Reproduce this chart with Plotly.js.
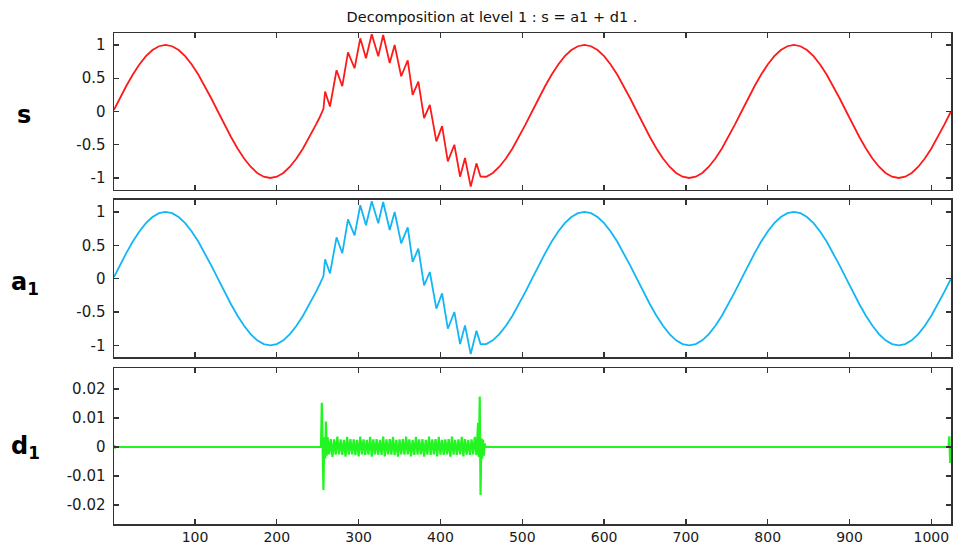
<!DOCTYPE html>
<html>
<head>
<meta charset="utf-8">
<script src="https://cdn.plot.ly/plotly-3.0.1.min.js"></script>
<style>
  html, body { margin: 0; padding: 0; background: #fff; }
  #chart { width: 953px; height: 544px; }
</style>
</head>
<body>
<div id="chart"></div>
<script>
// ---- data ----
const sX = [1,8,16,24,32,40,48,56,64,72,80,88,96,104,112,120,128,136,144,152,160,168,176,184,192,200,208,216,224,232,240,248,252,256,
  257,259,265,273,280,287,295,302,309,316,324,330,338,344,352,360,366,373,380,387,395,402,409,417,424,430,437,444,449,
  456,464,472,480,488,496,504,512,520,528,536,544,552,560,568,576,584,592,600,608,616,624,632,640,648,656,664,672,680,688,696,704,
  712,720,728,736,744,752,760,768,776,784,792,800,808,816,824,832,840,848,856,864,872,880,888,896,904,912,920,928,936,944,952,960,
  968,976,984,992,1000,1008,1016,1024];

const sY = [0.025,0.195,0.383,0.556,0.707,0.831,0.924,0.981,1,0.981,0.924,0.831,0.707,0.556,0.383,0.195,0,-0.195,-0.383,-0.556,-0.707,-0.831,-0.924,-0.981,-1,-0.981,-0.924,-0.831,-0.707,-0.556,-0.383,-0.195,-0.098,0,
  0.04,0.30,0.075,0.62,0.38,0.89,0.65,1.10,0.80,1.16,0.83,1.15,0.73,1.00,0.53,0.77,0.25,0.45,-0.10,0.10,-0.45,-0.22,-0.75,-0.50,-0.98,-0.70,-1.13,-0.78,-0.98,
  -0.981,-0.924,-0.831,-0.707,-0.556,-0.383,-0.195,0,0.195,0.383,0.556,0.707,0.831,0.924,0.981,1,0.981,0.924,0.831,0.707,0.556,0.383,0.195,0,-0.195,-0.383,-0.556,-0.707,-0.831,-0.924,-0.981,-1,
  -0.981,-0.924,-0.831,-0.707,-0.556,-0.383,-0.195,0,0.195,0.383,0.556,0.707,0.831,0.924,0.981,1,0.981,0.924,0.831,0.707,0.556,0.383,0.195,0,-0.195,-0.383,-0.556,-0.707,-0.831,-0.924,-0.981,-1,
  -0.981,-0.924,-0.831,-0.707,-0.556,-0.383,-0.195,0];

const a1Y = [0.025,0.195,0.383,0.556,0.707,0.831,0.924,0.981,1,0.981,0.924,0.831,0.707,0.556,0.383,0.195,0,-0.195,-0.383,-0.556,-0.707,-0.831,-0.924,-0.981,-1,-0.981,-0.924,-0.831,-0.707,-0.556,-0.383,-0.195,-0.098,0,
  0.04,0.29,0.078,0.62,0.38,0.89,0.65,1.10,0.80,1.16,0.83,1.15,0.73,1.00,0.53,0.77,0.25,0.45,-0.10,0.10,-0.45,-0.22,-0.75,-0.50,-0.98,-0.70,-1.13,-0.78,-0.98,
  -0.981,-0.924,-0.831,-0.707,-0.556,-0.383,-0.195,0,0.195,0.383,0.556,0.707,0.831,0.924,0.981,1,0.981,0.924,0.831,0.707,0.556,0.383,0.195,0,-0.195,-0.383,-0.556,-0.707,-0.831,-0.924,-0.981,-1,
  -0.981,-0.924,-0.831,-0.707,-0.556,-0.383,-0.195,0,0.195,0.383,0.556,0.707,0.831,0.924,0.981,1,0.981,0.924,0.831,0.707,0.556,0.383,0.195,0,-0.195,-0.383,-0.556,-0.707,-0.831,-0.924,-0.981,-1,
  -0.981,-0.924,-0.831,-0.707,-0.556,-0.383,-0.195,0];

const dX = [1,2,3,254,255,256,257,258,259,260,261,262,
  264,266,268,270,272,274,276,278,280,282,284,286,288,290,292,294,296,298,300,302,304,306,308,310,312,314,316,318,320,322,324,326,328,330,
  332,334,336,338,340,342,344,346,348,350,352,354,356,358,360,362,364,366,368,370,372,374,376,378,380,382,384,386,388,390,392,394,396,398,
  400,402,404,406,408,410,412,414,416,418,420,422,424,426,428,430,432,434,436,438,440,442,444,
  446,447,448,449,450,451,452,453,454,455,1020,1021,1022,1023,1024];

const dY = [0.0007,-0.0004,0,0,0.0152,-0.0044,-0.0148,0.0034,-0.0040,0.0088,-0.0030,0.0034,
  -0.0025,0.0027,-0.0034,0.0026,-0.0026,0.0036,-0.0025,0.0026,-0.0027,0.0025,-0.0033,0.0035,-0.0026,0.0027,-0.0025,0.0026,-0.0028,0.0025,
  -0.0032,0.0036,-0.0025,0.0026,-0.0027,0.0025,-0.0026,0.0035,-0.0033,0.0026,-0.0025,0.0027,-0.0026,0.0025,-0.0027,0.0036,-0.0032,0.0026,
  -0.0025,0.0027,-0.0026,0.0035,-0.0028,0.0025,-0.0033,0.0026,-0.0025,0.0027,-0.0026,0.0036,-0.0025,0.0026,-0.0032,0.0025,-0.0027,0.0035,
  -0.0026,0.0026,-0.0025,0.0027,-0.0033,0.0025,-0.0026,0.0036,-0.0027,0.0026,-0.0025,0.0027,-0.0032,0.0035,-0.0026,0.0025,-0.0027,0.0026,
  -0.0025,0.0027,-0.0033,0.0036,-0.0026,0.0025,-0.0027,0.0026,-0.0025,0.0035,-0.0032,0.0027,-0.0026,0.0025,-0.0027,0.0026,-0.0025,0.0035,-0.0028,
  0.0083,-0.0034,0.0174,-0.0165,0.0030,-0.0040,0.0026,-0.0030,0.0012,0,0,0.0004,0.0037,-0.0055,-0.0008];

const xTicks = [100,200,300,400,500,600,700,800,900,1000];
const xTickText = ["100","200","300","400","500","600","700","800","900","1000"];
const sTicks = [-1,-0.5,0,0.5,1];
const sTickText = ["-1","-0.5","0","0.5","1"];
const dTicks = [-0.02,-0.01,0,0.01,0.02];
const dTickText = ["-0.02","-0.01","0","0.01","0.02"];
const titleText = "Decomposition at level 1 : s = a1 + d1 .";

// ---- styling ----
const yTickFont = { family: "DejaVu Sans", size: 15, color: "#1a1a1a" };
const xTickFont = { family: "DejaVu Sans", size: 14, color: "#1a1a1a" };
function xAxis(showLabels) {
  return {
    range: [1, 1024], tickvals: xTicks, ticktext: xTickText, showticklabels: showLabels,
    ticks: "inside", ticklen: 5, tickwidth: 1.3, tickcolor: "#333",
    showline: true, linecolor: "#333", linewidth: 1.5, mirror: "ticks",
    showgrid: false, zeroline: false, tickfont: xTickFont, ticklabelstandoff: 0
  };
}
function yAxis(domain, range, vals, text) {
  return {
    domain: domain, range: range, tickvals: vals, ticktext: text,
    ticks: "inside", ticklen: 5, tickwidth: 1.3, tickcolor: "#333",
    showline: true, linecolor: "#333", linewidth: 1.5, mirror: "ticks",
    showgrid: false, zeroline: false, tickfont: yTickFont, ticklabelstandoff: 4
  };
}

const traces = [
  { x: sX, y: sY, xaxis: "x", yaxis: "y", mode: "lines", line: { color: "#ff1a1a", width: 1.8 }, hoverinfo: "skip" },
  { x: sX, y: a1Y, xaxis: "x2", yaxis: "y2", mode: "lines", line: { color: "#12b6f5", width: 1.8 }, hoverinfo: "skip" },
  { x: dX, y: dY, xaxis: "x3", yaxis: "y3", mode: "lines", line: { color: "#22f522", width: 2.2 }, hoverinfo: "skip" }
];

const labelFont = { family: "DejaVu Sans", size: 24, color: "#000", weight: "bold" };
const layout = {
  width: 953, height: 544,
  margin: { l: 114, r: 2, t: 33, b: 20 },
  paper_bgcolor: "#fff", plot_bgcolor: "#fff",
  showlegend: false,
  title: { text: titleText, x: 0.4516, xref: "paper", xanchor: "center", y: 0.969, yref: "container", yanchor: "middle",
           font: { family: "DejaVu Sans", size: 14.5, color: "#111" } },
  xaxis: Object.assign(xAxis(false), { anchor: "y" }),
  xaxis2: Object.assign(xAxis(false), { anchor: "y2" }),
  xaxis3: Object.assign(xAxis(true), { anchor: "y3" }),
  yaxis: Object.assign(yAxis([0.681, 1], [-1.175, 1.18], sTicks, sTickText), { anchor: "x" }),
  yaxis2: Object.assign(yAxis([0.340, 0.660], [-1.175, 1.18], sTicks, sTickText), { anchor: "x2" }),
  yaxis3: Object.assign(yAxis([0, 0.3177], [-0.0265, 0.0272], dTicks, dTickText), { anchor: "x3" }),
  annotations: [
    { text: "<b>s</b>", xref: "paper", yref: "paper", x: -0.118, y: 0.834, xanchor: "left", yanchor: "middle", showarrow: false, font: labelFont },
    { text: "<b>a<sub>1</sub></b>", xref: "paper", yref: "paper", x: -0.126, y: 0.49, xanchor: "left", yanchor: "middle", showarrow: false, font: labelFont },
    { text: "<b>d<sub>1</sub></b>", xref: "paper", yref: "paper", x: -0.126, y: 0.155, xanchor: "left", yanchor: "middle", showarrow: false, font: labelFont }
  ]
};

Plotly.newPlot("chart", traces, layout, { staticPlot: true, displayModeBar: false });
</script>
</body>
</html>
